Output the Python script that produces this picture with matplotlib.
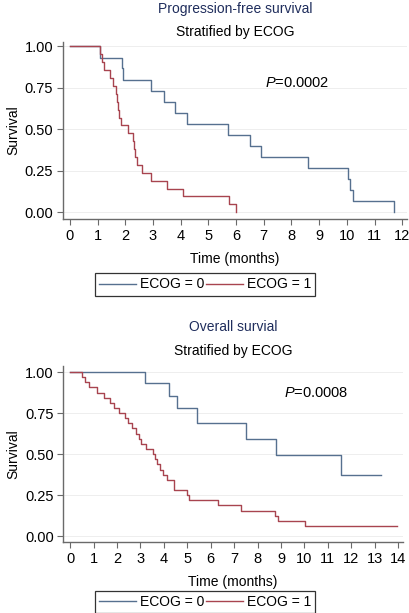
import matplotlib
matplotlib.use("Agg")
import matplotlib.pyplot as plt

plt.rcParams['font.family'] = ['Liberation Sans', 'DejaVu Sans']
plt.rcParams['mathtext.fontset'] = 'custom'
plt.rcParams['mathtext.it'] = 'Liberation Sans:italic'
plt.rcParams['mathtext.rm'] = 'Liberation Sans'

# progression-free survival, ECOG = 0 / ECOG = 1
pfs_t0 = [0, 1.08, 1.87, 1.93, 2.92, 3.40, 3.81, 4.23, 5.72, 6.50, 6.90, 8.58, 10.05, 10.13, 10.23, 11.70]
pfs_s0 = [1.0, 0.933, 0.867, 0.800, 0.733, 0.667, 0.600, 0.533, 0.467, 0.400, 0.333, 0.267, 0.200, 0.133, 0.067, 0.0]
pfs_t1 = [0, 1.10, 1.15, 1.22, 1.44, 1.56, 1.65, 1.71, 1.74, 1.78, 1.83, 2.08, 2.29, 2.32, 2.35, 2.41,
          2.59, 2.92, 3.49, 4.09, 5.74, 5.98]
pfs_s1 = [1.0, 0.952, 0.905, 0.857, 0.810, 0.762, 0.714, 0.667, 0.619, 0.571, 0.524, 0.476, 0.429, 0.381,
          0.333, 0.286, 0.238, 0.190, 0.143, 0.095, 0.048, 0.0]

# overall survival
os_t0 = [0, 3.19, 4.23, 4.58, 5.40, 7.51, 8.80, 11.56, 13.27]
os_s0 = [1.0, 0.933, 0.855, 0.778, 0.692, 0.594, 0.495, 0.371, 0.371]
os_t1 = [0, 0.50, 0.65, 0.82, 1.15, 1.45, 1.70, 1.85, 2.07, 2.35, 2.48, 2.62, 2.79, 2.93, 3.02, 3.25,
         3.53, 3.60, 3.72, 3.85, 3.97, 4.12, 4.42, 5.00, 5.07, 6.30, 7.27, 8.75, 8.85, 10.03, 13.97]
os_s1 = [1.0, 0.969, 0.938, 0.906, 0.875, 0.844, 0.813, 0.781, 0.750, 0.719, 0.688, 0.656, 0.625, 0.594,
         0.563, 0.531, 0.500, 0.469, 0.438, 0.406, 0.375, 0.344, 0.281, 0.250, 0.219, 0.188, 0.156,
         0.125, 0.094, 0.063, 0.063]

y_ticks = [0, 0.25, 0.5, 0.75, 1.0]
y_labels = ['0.00', '0.25', '0.50', '0.75', '1.00']
legend_labels = ['ECOG = 0', 'ECOG = 1']

BLUE = '#56708f'
RED = '#a8444f'
NAVY = '#1f2d5c'
AXC = '#6a6a6a'

fig = plt.figure(figsize=(4.09, 6.13), dpi=100)


def panel(rect, t0, s0, t1, s1, xmax, xlim, ylim, title, title_y, ptext, ppos, leg_y):
    ax = fig.add_axes(rect)
    ax.step(t0, s0, where='post', color=BLUE, lw=1.0, label=legend_labels[0])
    ax.step(t1, s1, where='post', color=RED, lw=1.0, label=legend_labels[1])
    ax.set_xlim(*xlim)
    ax.set_ylim(*ylim)
    ax.set_xticks(range(0, xmax + 1))
    ax.set_yticks(y_ticks)
    ax.set_yticklabels(y_labels)
    for y in y_ticks:
        ax.axhline(y, color='#eeeeee', lw=0.7, zorder=0)
    for s in ['top', 'right']:
        ax.spines[s].set_visible(False)
    for s in ['left', 'bottom']:
        ax.spines[s].set_color(AXC)
        ax.spines[s].set_linewidth(1.0)
    ax.tick_params(direction='out', length=4, width=0.8, color=AXC, labelsize=10.5, pad=3)
    ax.set_xlabel('Time (months)', fontsize=10, labelpad=7)
    ax.set_ylabel('Survival', fontsize=10, labelpad=3)
    ax.text(ppos[0], ppos[1], r'$\mathit{P}$' + ptext, fontsize=10.5, ha='center', va='center')
    ax.text(0.5, title_y[0], title, transform=ax.transAxes, ha='center', va='center', fontsize=10, color=NAVY)
    ax.text(0.5, title_y[1], 'Stratified by ECOG', transform=ax.transAxes, ha='center', va='center',
            fontsize=10)
    leg = ax.legend(loc='center', bbox_to_anchor=(0.501, leg_y), bbox_transform=fig.transFigure,
                    ncol=2, fontsize=10, handlelength=2.7, handletextpad=0.25, columnspacing=0.1,
                    borderpad=0.3, fancybox=False, framealpha=1)
    leg.get_frame().set_edgecolor('#333333')
    leg.get_frame().set_linewidth(0.9)
    return ax


panel([0.154, 0.643, 0.841, 0.288], pfs_t0, pfs_s0, pfs_t1, pfs_s1, 12, (-0.25, 12.17), (-0.04, 1.025),
      'Progression-free survival', (1.187, 1.057), '=0.0002', (8.2, 0.778), 0.536)
panel([0.155, 0.116, 0.83, 0.287], os_t0, os_s0, os_t1, os_s1, 14, (-0.29, 14.2), (-0.035, 1.037),
      'Overall survial', (1.222, 1.085), '=0.0008', (10.5, 0.872), 0.0175)

fig.savefig('out.png', dpi=100)
